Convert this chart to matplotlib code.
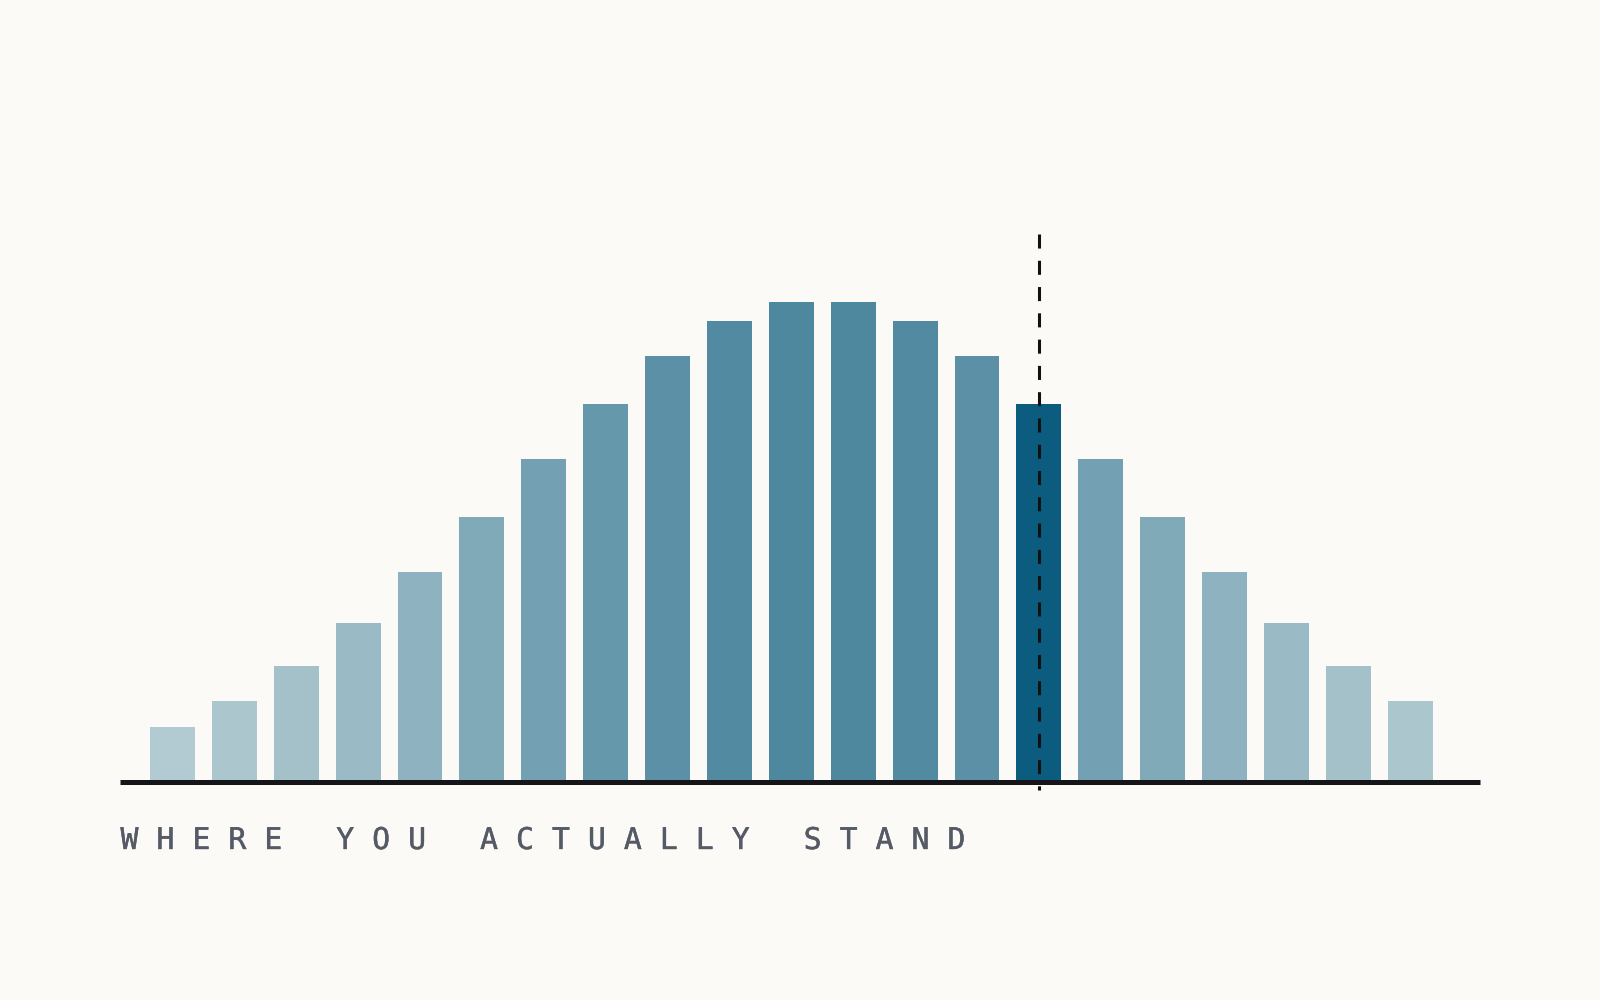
import numpy as np
import matplotlib.pyplot as plt
import matplotlib.patheffects as pe

# bar heights (arbitrary units)
heights = [54, 79, 113, 155, 205, 259, 316, 370, 417, 451, 470,
           470, 451, 417, 370, 316, 259, 205, 155, 113, 79]
you_index = 14
label = "WHERE YOU ACTUALLY STAND"

bg = "#fbfaf6"
base = "#0b5c7e"

fig = plt.figure(figsize=(16, 10), dpi=100, facecolor=bg)
ax = fig.add_axes([0.0753, 0.2184, 0.8494, 0.5530])
ax.set_facecolor(bg)

h = np.array(heights, dtype=float)
x = np.arange(len(h))
alphas = 0.3 + 0.42 * (h - h.min()) / (h.max() - h.min())
for i in range(len(h)):
    if i == you_index:
        ax.bar(x[i], h[i], width=0.725, color=base, linewidth=0, zorder=2)
    else:
        ax.bar(x[i], h[i], width=0.725, color=base, alpha=alphas[i],
               linewidth=0, zorder=2)

ax.axhline(0, color="#16161a", lw=3.6, clip_on=False, zorder=3,
           solid_capstyle="butt")
# draw top -> bottom so the dash pattern starts at the top
ax.plot([you_index, you_index], [537, -8], color="#111111", lw=2.2,
        linestyle=(0, (4.6, 4.0)), clip_on=False, zorder=4,
        dash_capstyle="butt")

ax.set_xlim(-0.84, 21.12)
ax.set_ylim(0, 542)
ax.axis("off")

spaced = "   ".join(" ".join(w) for w in label.split())
fig.text(0.0753, 0.151, spaced, family="DejaVu Sans Mono", fontsize=21.5,
         color="#555b66", va="baseline", ha="left",
         path_effects=[pe.withStroke(linewidth=0.3, foreground="#555b66")])

fig.savefig("out.png", facecolor=bg)
